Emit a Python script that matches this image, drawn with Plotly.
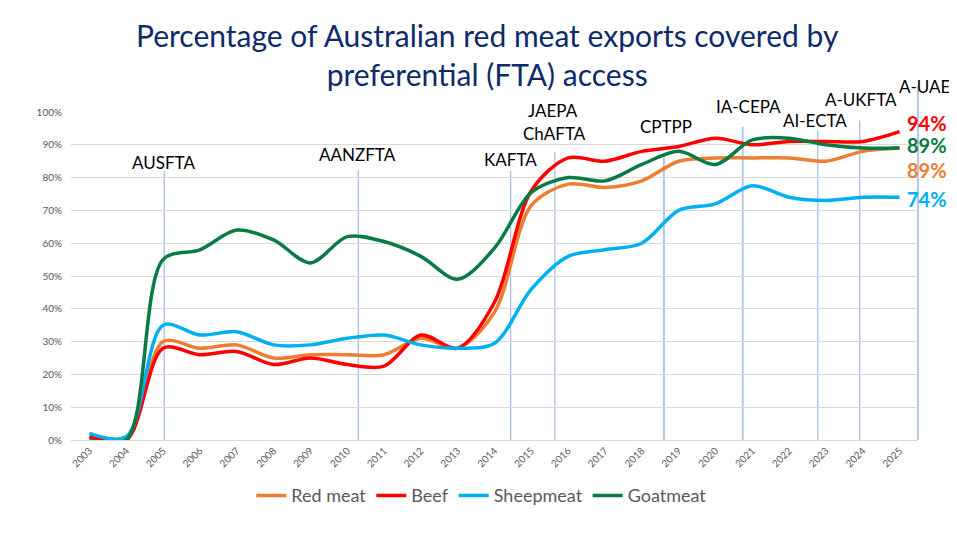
import plotly.graph_objects as go

years = [str(y) for y in range(2003, 2026)]

red_meat = [1, 0, 30, 28, 29, 25, 26, 26, 26, 31, 28, 39, 71.5, 78, 77, 79, 85, 86, 86, 86, 85, 88, 89]
beef = [1, 0, 28, 26, 27, 23, 25, 23, 22.5, 32, 28, 42, 76, 86, 85, 88, 89.5, 92, 90, 91, 91, 91, 94]
sheepmeat = [2, 1, 35, 32, 33, 29, 29, 31, 32, 29, 28, 29.5, 46, 56, 58, 60, 70, 72, 77.5, 74, 73, 74, 74]
goatmeat = [0, 0, 55, 58, 64, 61, 54, 62, 60.5, 56, 49, 58.5, 75.5, 80, 79, 84, 88, 84, 91.5, 92, 90, 89, 89]

series_names = ["Red meat", "Beef", "Sheepmeat", "Goatmeat"]
series_values = [red_meat, beef, sheepmeat, goatmeat]
series_colors = ["#ED7D31", "#FF0000", "#00B0F0", "#0A7A45"]

# FTA events: label, position on category axis (index), top of line (%), label x, label y (%)
fta_labels = ["AUSFTA", "AANZFTA", "KAFTA", "JAEPA", "ChAFTA", "CPTPP", "IA-CEPA", "AI-ECTA", "A-UKFTA", "A-UAE"]
fta_line_pos = [2.03, 7.3, 11.44, 12.64, None, 15.6, 17.74, 19.78, 20.92, 22.5]
fta_line_top = [82, 82.3, 82, 87.8, None, 87, 95.5, 94.5, 97.4, 108]
fta_line_width = [1, 1, 1, 1, None, 2, 2, 1, 1, 2]
fta_label_x = [2.0, 7.27, 11.44, 12.6, 12.63, 15.66, 17.91, 19.7, 20.94, 22.68]
fta_label_y = [84.5, 86.9, 85.4, 100.4, 93.3, 95.5, 101.6, 97.3, 103.7, 107.7]

end_labels = ["94%", "89%", "89%", "74%"]
end_label_colors = ["#FF0000", "#0A7A45", "#ED7D31", "#00B0F0"]
end_label_y = [96.7, 90.0, 82.2, 73.5]
end_label_x = 22.74

n_cat = len(years)


def cat_to_paper(v):
    return (v + 0.5) / n_cat


fig = go.Figure()

for lbl, xp, top, lw in zip(fta_labels, fta_line_pos, fta_line_top, fta_line_width):
    if xp is None:
        continue
    fig.add_shape(type="line", xref="paper", yref="paper",
                  x0=cat_to_paper(xp), x1=cat_to_paper(xp), y0=0, y1=top / 100,
                  line=dict(color="#8FAADC" if lw == 1 else "#B4C7E7", width=lw), layer="below")

for name, vals, col in zip(series_names, series_values, series_colors):
    fig.add_trace(go.Scatter(x=years, y=vals, name=name, mode="lines",
                             line=dict(color=col, width=3.5, shape="spline", smoothing=0.9),
                             cliponaxis=True))

for lbl, lx, ly in zip(fta_labels, fta_label_x, fta_label_y):
    fig.add_annotation(text=lbl, xref="paper", yref="paper", x=cat_to_paper(lx), y=ly / 100,
                       showarrow=False, xanchor="center", yanchor="middle",
                       font=dict(family="Lato", size=17, color="#000000"))

for lbl, col, ly in zip(end_labels, end_label_colors, end_label_y):
    fig.add_annotation(text="<b>" + lbl + "</b>", xref="paper", yref="paper",
                       x=cat_to_paper(end_label_x), y=ly / 100,
                       showarrow=False, xanchor="center", yanchor="middle",
                       font=dict(family="Lato", size=20, color=col))

fig.add_annotation(text="Percentage of Australian red meat exports covered by<br>preferential (FTA) access",
                   xref="paper", yref="paper", x=0.492, y=1.1738, showarrow=False,
                   xanchor="center", yanchor="middle",
                   font=dict(family="Lato", size=30, color="#0E2A6B"))

fig.update_layout(
    width=957, height=537,
    margin=dict(l=63, r=47, t=104, b=105),
    paper_bgcolor="white", plot_bgcolor="white",
    showlegend=True,
    legend=dict(orientation="h", x=0.485, xanchor="center", y=-0.17, yanchor="middle",
                font=dict(family="Lato", size=18, color="#595959"), itemwidth=30,
                traceorder="normal"),
    xaxis=dict(type="category", range=[-0.5, 22.5], tickangle=-45, showgrid=False,
               tickfont=dict(family="Lato", size=10, color="#595959"),
               showline=True, linecolor="#D9D9D9", linewidth=1, ticks=""),
    yaxis=dict(range=[0, 100], dtick=10, ticksuffix="%", showgrid=True, gridcolor="#D9D9D9",
               gridwidth=1, zeroline=False, showline=False, ticklabelstandoff=8,
               tickfont=dict(family="Lato", size=10, color="#595959")),
)

fig.write_html("out.html")
